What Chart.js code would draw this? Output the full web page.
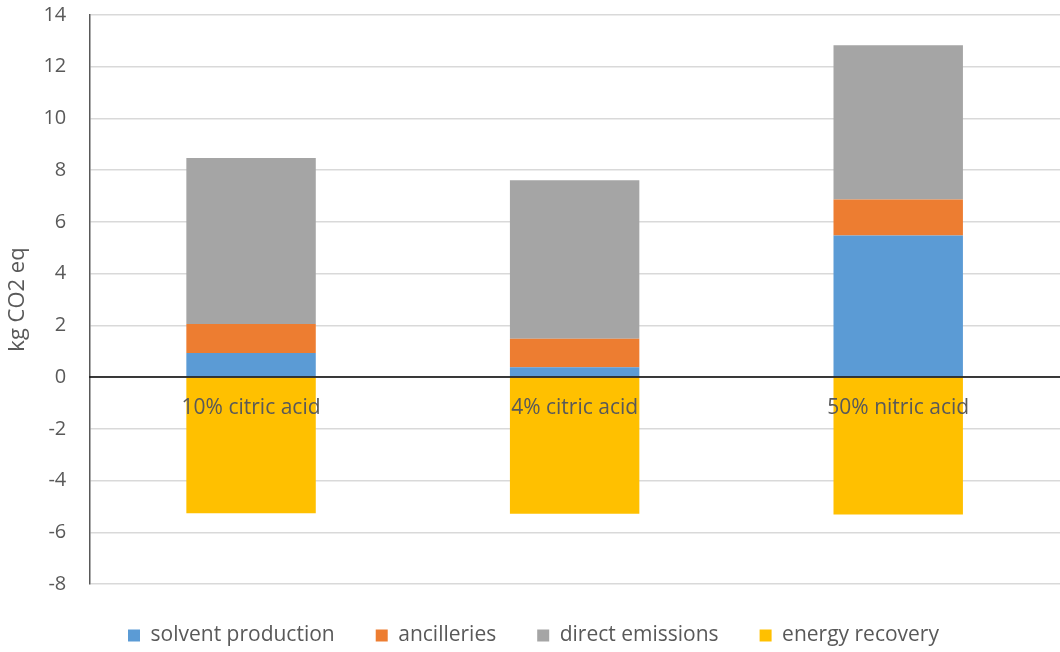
<!DOCTYPE html>
<html>
<head>
<meta charset="utf-8">
<script src="https://cdn.jsdelivr.net/npm/chart.js@4"></script>
<style>
  html, body { margin: 0; padding: 0; background: #fff; }
  #wrap { width: 1060px; height: 652px; position: relative; }
</style>
</head>
<body>
<div id="wrap"><canvas id="chart1"></canvas></div>
<script>

const textColor = "#595959"
const fontName = "Open Sans"

const categories = ["10% citric acid", "4% citric acid", "50% nitric acid"];

const solventProduction = [0.93, 0.38, 5.47];
const ancilleries = [1.12, 1.10, 1.40];
const directEmissions = [6.42, 6.13, 5.96];
const energyRecovery = [-5.26, -5.28, -5.31];

const seriesNames = ["solvent production", "ancilleries", "direct emissions", "energy recovery"];
const seriesColors = ["#5B9BD5", "#ED7D31", "#A5A5A5", "#FFC000"];

const yTitle = "kg CO2 eq";

// zero line + category names sit on top of the bars, like the excel original
const zeroAxis = {
    id: 'zeroAxis',
    afterDatasetsDraw: function(chart){
        var c = chart.ctx, xs = chart.scales.x, ys = chart.scales.y;
        var y0 = ys.getPixelForValue(0);
        c.save();
        c.strokeStyle = '#000000';
        c.lineWidth = 1.5;
        c.beginPath();
        c.moveTo(chart.chartArea.left, y0);
        c.lineTo(chart.chartArea.right, y0);
        c.stroke();
        c.fillStyle = textColor;
        c.font = '21px "' + fontName + '"';
        c.textAlign = 'center';
        c.textBaseline = 'middle';
        categories.forEach(function(lab, i){
            c.fillText(lab, xs.getPixelForValue(i), y0 + 31);
        });
        c.restore();
    }
};

var chart = createChart('chart1');

function createChart(name){

    var ctx = document.getElementById(name).getContext('2d');
    var seriesData = [solventProduction, ancilleries, directEmissions, energyRecovery];

    var chart = new Chart(ctx, {
        type: 'bar',
        data: {
            labels: categories,
            datasets: seriesNames.map(function(n, i){
                return {
                    label: n,
                    data: seriesData[i],
                    backgroundColor: seriesColors[i],
                    borderWidth: 0,
                    categoryPercentage: 0.8,
                    barPercentage: 0.5
                };
            })
        },
        options: {
            responsive: true,
            maintainAspectRatio: false,
            animation: false,
            layout: { padding: { top: 15, right: -7, left: 0, bottom: -4 } },
            plugins: {
                legend: {
                    position: 'bottom',
                    labels: {
                        boxWidth: 12,
                        boxHeight: 12,
                        padding: 41,
                        color: textColor,
                        font: { family: fontName, size: 21 }
                    }
                },
                tooltip: { enabled: false }
            },
            scales: {
                x: {
                    stacked: true,
                    display: false
                },
                y: {
                    stacked: true,
                    min: -8,
                    max: 14,
                    // invisible tick marks give the gap between labels and axis
                    grid: { color: '#D9D9D9', lineWidth: 1.5, drawTicks: true, tickLength: 23, tickColor: 'rgba(0,0,0,0)' },
                    border: { color: '#595959', width: 1.5 },
                    title: {
                        display: true,
                        text: yTitle,
                        color: textColor,
                        font: { family: fontName, size: 22 },
                        padding: { top: 5, bottom: 12 }
                    },
                    ticks: {
                        stepSize: 2,
                        color: textColor,
                        padding: 0,
                        font: { family: fontName, size: 20 }
                    }
                }
            }
        },
        plugins: [zeroAxis]
    });

    return chart;
}
</script>
</body>
</html>
